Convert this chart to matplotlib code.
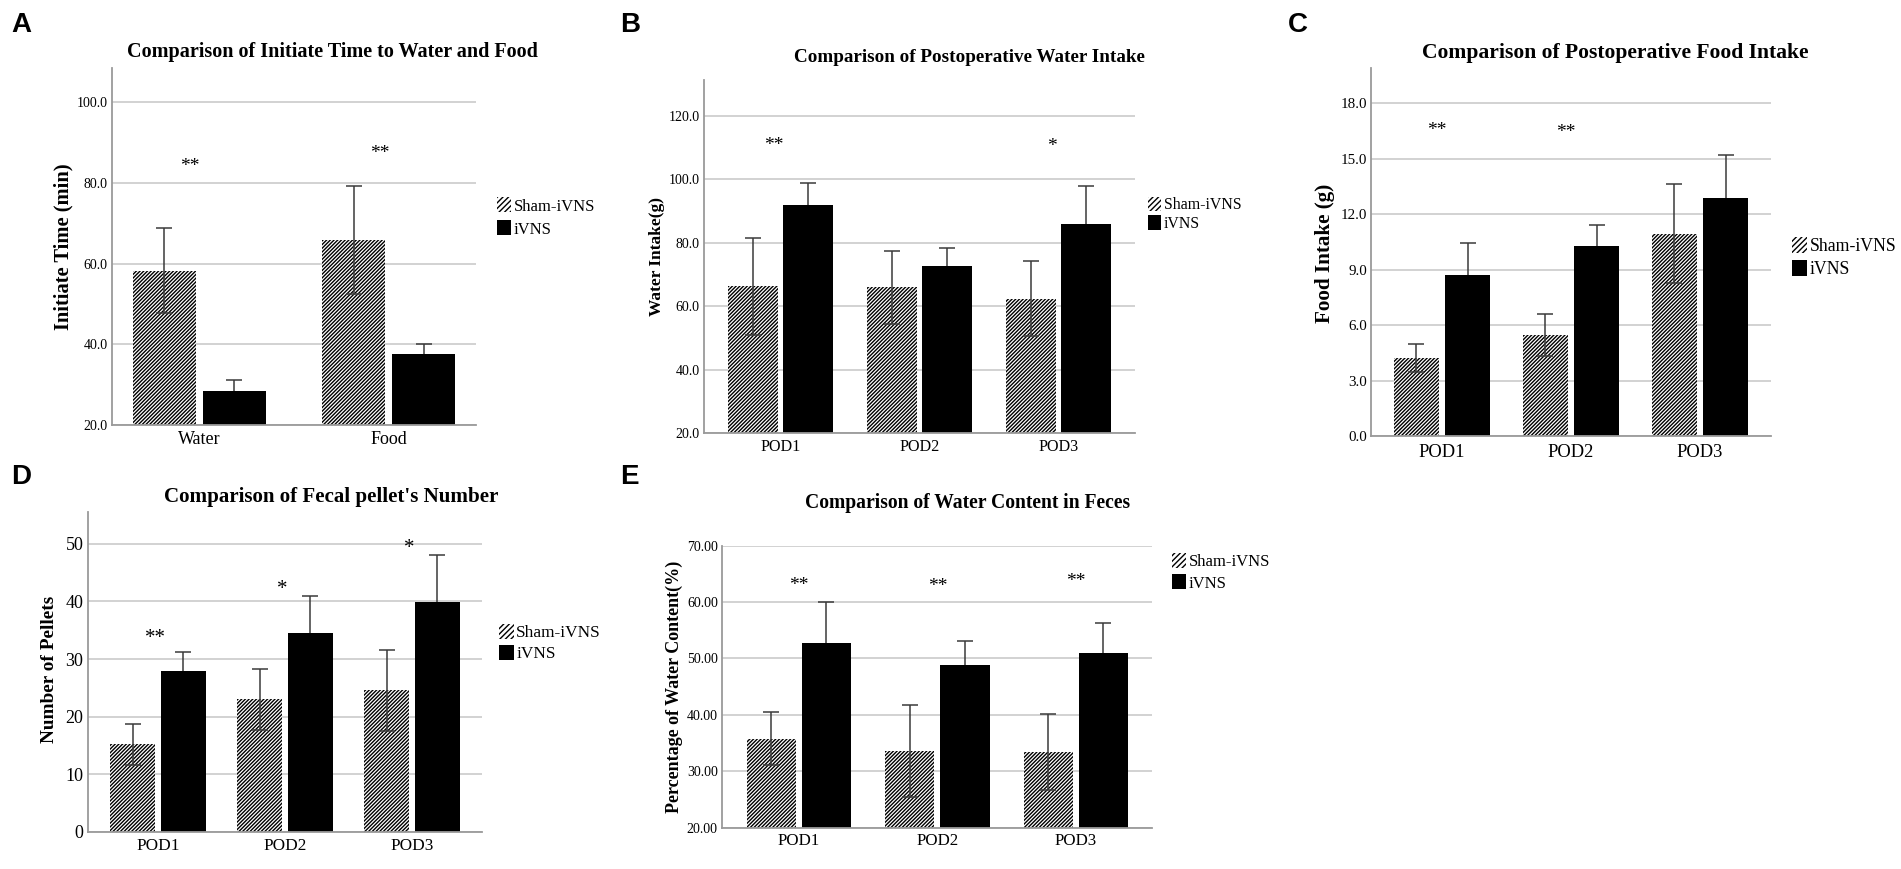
import matplotlib
matplotlib.use('Agg')
import matplotlib.pyplot as plt
from matplotlib.patches import Patch
import numpy as np

plt.rcParams['font.family'] = ['Liberation Serif', 'DejaVu Serif']
plt.rcParams['hatch.linewidth'] = 1.0

# ---------------- data ----------------
series_names = ['Sham-iVNS', 'iVNS']

cats_A = ['Water', 'Food']
sham_A = [58.3, 65.8]
sham_err_A = [10.6, 13.4]
ivns_A = [28.4, 37.5]
ivns_err_A = [2.8, 2.5]
stars_A = ['**', '**']
star_y_A = [84.1, 87.2]

cats_POD = ['POD1', 'POD2', 'POD3']

sham_B = [66.3, 65.9, 62.3]
sham_err_B = [15.3, 11.4, 11.8]
ivns_B = [91.9, 72.8, 85.9]
ivns_err_B = [7.0, 5.5, 12.0]
stars_B = ['**', '', '*']
star_y_B = [110.8, 0, 110.3]

sham_C = [4.22, 5.46, 10.93]
sham_err_C = [0.75, 1.12, 2.68]
ivns_C = [8.70, 10.26, 12.88]
ivns_err_C = [1.74, 1.16, 2.30]
stars_C = ['**', '**', '']
star_y_C = [16.5, 16.4, 0]

sham_D = [15.25, 23.0, 24.6]
sham_err_D = [3.55, 5.3, 7.0]
ivns_D = [27.9, 34.5, 39.9]
ivns_err_D = [3.4, 6.5, 8.2]
stars_D = ['**', '*', '*']
star_y_D = [33.5, 42.1, 49.2]

sham_E = [35.8, 33.6, 33.4]
sham_err_E = [4.7, 8.2, 6.8]
ivns_E = [52.7, 48.9, 51.0]
ivns_err_E = [7.3, 4.2, 5.2]
stars_E = ['**', '**', '**']
star_y_E = [63.0, 62.7, 63.7]

titles = ['Comparison of Initiate Time to Water and Food',
          'Comparison of Postoperative Water Intake',
          'Comparison of Postoperative Food Intake',
          "Comparison of Fecal pellet's Number",
          'Comparison of Water Content in Feces']
ylabels = ['Initiate Time (min)', 'Water Intake(g)', 'Food Intake (g)',
           'Number of Pellets', 'Percentage of Water Content(%)']
letters = ['A', 'B', 'C', 'D', 'E']

# ---------------- layout (pixels) ----------------
W, H = 1901, 869
fig = plt.figure(figsize=(W / 100, H / 100), dpi=100)


def fx(p):
    return p / W


def fy(p):
    return 1 - p / H


layout = [
    dict(rect=(112, 68, 476, 425), ylim=(20, 108.5), yticks=[20, 40, 60, 80, 100], yfmt='{:.1f}',
         xlim=(-0.46, 1.46), bw=0.333, off=0.185, title_xy=(332, 52), title_fs=14.5,
         letter_xy=(21, 25), ylab_xy=(63, 247), ylab_fs=14.8, ytick_fs=10.0, xtick_fs=13.0,
         leg_xy=(497, 207.5), leg_fs=12.0, leg_sp=0.35, star_fs=14, star_dx=-0.05, xpad=4),
    dict(rect=(704, 80, 1135, 433), ylim=(20, 131.3), yticks=[20, 40, 60, 80, 100, 120], yfmt='{:.1f}',
         xlim=(-0.55, 2.55), bw=0.356, off=0.198, title_xy=(969, 58), title_fs=13.8,
         letter_xy=(630, 25), ylab_xy=(657, 257), ylab_fs=12.5, ytick_fs=10.0, xtick_fs=11.6,
         leg_xy=(1148, 206), leg_fs=11.4, leg_sp=0.15, star_fs=14, star_dx=-0.05, xpad=4),
    dict(rect=(1371, 68, 1771, 436), ylim=(0, 19.9), yticks=[0, 3, 6, 9, 12, 15, 18], yfmt='{:.1f}',
         xlim=(-0.55, 2.55), bw=0.354, off=0.198, title_xy=(1615, 53), title_fs=15.6,
         letter_xy=(1298, 25), ylab_xy=(1325, 253), ylab_fs=15.2, ytick_fs=10.8, xtick_fs=13.3,
         leg_xy=(1792, 248), leg_fs=12.8, leg_sp=0.25, star_fs=14, star_dx=-0.04, xpad=5.5),
    dict(rect=(87.5, 512, 482, 832), ylim=(0, 55.5), yticks=[0, 10, 20, 30, 40, 50], yfmt='{:.0f}',
         xlim=(-0.555, 2.55), bw=0.354, off=0.198, title_xy=(331, 497), title_fs=15.1,
         letter_xy=(21, 477), ylab_xy=(49, 669), ylab_fs=13.9, ytick_fs=13.0, xtick_fs=12.4,
         leg_xy=(499, 634), leg_fs=12.4, leg_sp=0.2, star_fs=15, star_dx=-0.02, xpad=4.5),
    dict(rect=(722, 545.6, 1152, 827.7), ylim=(20, 70), yticks=[20, 30, 40, 50, 60, 70], yfmt='{:.2f}',
         xlim=(-0.555, 2.55), bw=0.356, off=0.199, title_xy=(968, 503), title_fs=14.1,
         letter_xy=(629, 477), ylab_xy=(674, 687), ylab_fs=13.0, ytick_fs=10.0, xtick_fs=12.2,
         leg_xy=(1172, 563), leg_fs=12.0, leg_sp=0.25, star_fs=14, star_dx=0.0, xpad=4),
]

data = [
    (cats_A, sham_A, sham_err_A, ivns_A, ivns_err_A, stars_A, star_y_A),
    (cats_POD, sham_B, sham_err_B, ivns_B, ivns_err_B, stars_B, star_y_B),
    (cats_POD, sham_C, sham_err_C, ivns_C, ivns_err_C, stars_C, star_y_C),
    (cats_POD, sham_D, sham_err_D, ivns_D, ivns_err_D, stars_D, star_y_D),
    (cats_POD, sham_E, sham_err_E, ivns_E, ivns_err_E, stars_E, star_y_E),
]

HATCH = '/' * 9
ECOL = '#3a3a3a'

for i, (cfg, d) in enumerate(zip(layout, data)):
    cats, sham, sham_err, ivns, ivns_err, stars, star_y = d
    x0, y0, x1, y1 = cfg['rect']
    ax = fig.add_axes([fx(x0), fy(y1), (x1 - x0) / W, (y1 - y0) / H])
    x = np.arange(len(cats))
    bw, off = cfg['bw'], cfg['off']
    ax.bar(x - off, sham, bw, color='white', edgecolor='black', hatch=HATCH, linewidth=0, zorder=2)
    ax.bar(x + off, ivns, bw, color='black', edgecolor='black', linewidth=0, zorder=2)
    ax.errorbar(x - off, sham, yerr=sham_err, fmt='none', ecolor=ECOL, elinewidth=1.1,
                capsize=5.5, capthick=1.1, zorder=3)
    # iVNS error bars sit behind the black bars so only the upper half shows
    ax.errorbar(x + off, ivns, yerr=ivns_err, fmt='none', ecolor=ECOL, elinewidth=1.1,
                capsize=5.5, capthick=1.1, zorder=1.5)
    ax.set_xlim(*cfg['xlim'])
    ax.set_ylim(*cfg['ylim'])
    ax.set_yticks(cfg['yticks'])
    ax.set_yticklabels([cfg['yfmt'].format(v) for v in cfg['yticks']], fontsize=cfg['ytick_fs'])
    ax.set_xticks(x)
    ax.set_xticklabels(cats, fontsize=cfg['xtick_fs'])
    ax.tick_params(axis='both', length=0)
    ax.tick_params(axis='y', pad=3)
    ax.tick_params(axis='x', pad=cfg['xpad'])
    ax.grid(axis='y', color='#cfcfcf', linewidth=1.3, zorder=0)
    ax.set_axisbelow(True)
    for s in ('top', 'right'):
        ax.spines[s].set_visible(False)
    for s in ('left', 'bottom'):
        ax.spines[s].set_color('#9a9a9a')
        ax.spines[s].set_linewidth(1.3)
        ax.spines[s].set_zorder(2.5)
    for j, s in enumerate(stars):
        if s:
            ax.text(x[j] + cfg['star_dx'], star_y[j], s, ha='center', va='center',
                    fontsize=cfg['star_fs'], color='black')

    # title, panel letter, y label
    tx, ty = cfg['title_xy']
    fig.text(fx(tx), fy(ty), titles[i], ha='center', va='center', fontsize=cfg['title_fs'],
             fontweight='bold')
    lx, ly = cfg['letter_xy']
    fig.text(fx(lx), fy(ly), letters[i], ha='center', va='center', fontsize=20,
             fontweight='bold', family=['Liberation Sans', 'DejaVu Sans'])
    yx, yy = cfg['ylab_xy']
    fig.text(fx(yx), fy(yy), ylabels[i], ha='center', va='center', rotation=90,
             fontsize=cfg['ylab_fs'], fontweight='bold')

    # legend
    fs_px = cfg['leg_fs'] * 100 / 72
    gx, gy = cfg['leg_xy']
    handles = [Patch(facecolor='white', edgecolor='black', hatch='/' * 6, linewidth=0),
               Patch(facecolor='black', edgecolor='black', linewidth=0)]
    fig.legend(handles=handles, labels=series_names, loc='upper left',
               bbox_to_anchor=(fx(gx), fy(gy - 0.6 * fs_px)), bbox_transform=fig.transFigure,
               frameon=False, borderpad=0, borderaxespad=0, fontsize=cfg['leg_fs'],
               handlelength=0.85, handleheight=1.0, handletextpad=0.15,
               labelspacing=cfg['leg_sp'])

fig.savefig('out.png', dpi=100)
